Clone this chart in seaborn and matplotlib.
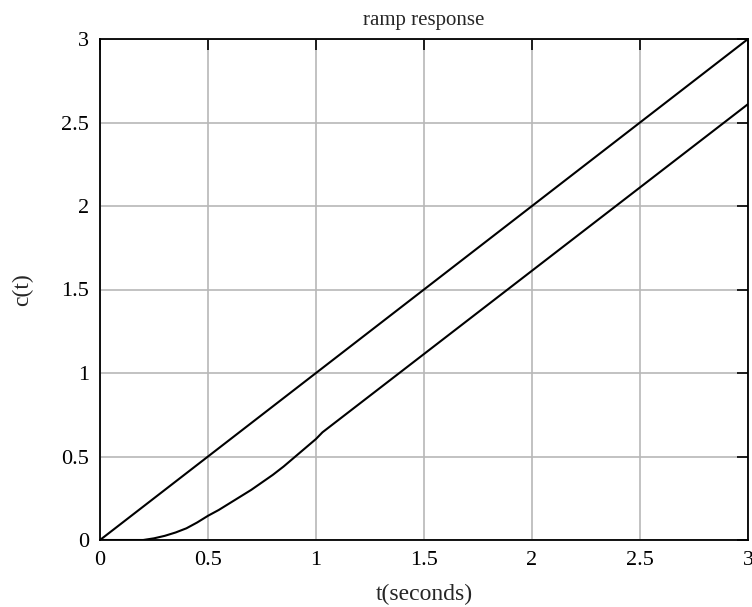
import numpy as np
import pandas as pd
import seaborn as sns
import matplotlib.pyplot as plt

# input ramp r(t) = t
ramp_t = [0.0, 3.0]
ramp_c = [0.0, 3.0]

# system output c(t)
out_t = [0.0, 0.2, 0.25, 0.3, 0.35, 0.4, 0.45, 0.5, 0.55, 0.6, 0.65, 0.7,
         0.75, 0.8, 0.85, 0.9, 0.95, 1.0, 1.03, 3.0]
out_c = [0.0, 0.0, 0.01, 0.025, 0.045, 0.07, 0.105, 0.145, 0.18, 0.22, 0.26,
         0.30, 0.345, 0.39, 0.44, 0.495, 0.55, 0.605, 0.645, 2.61]

ticks = [0, 0.5, 1, 1.5, 2, 2.5, 3]
tick_labels = ["0", "0.5", "1", "1.5", "2", "2.5", "3"]

sns.set_style("white")
plt.rcParams["font.family"] = ["Liberation Serif", "DejaVu Serif"]

fig = plt.figure(figsize=(7.52, 6.07), dpi=100)
ax = fig.add_axes([100 / 752, 67 / 607, 648 / 752, 501 / 607])

df_ramp = pd.DataFrame({"t": ramp_t, "c": ramp_c})
df_out = pd.DataFrame({"t": out_t, "c": out_c})
sns.lineplot(data=df_ramp, x="t", y="c", ax=ax, color="black", lw=1.5)
sns.lineplot(data=df_out, x="t", y="c", ax=ax, color="black", lw=1.5)

ax.set_xlim(0, 3)
ax.set_ylim(0, 3)
ax.set_xticks(ticks)
ax.set_xticklabels(tick_labels)
ax.set_yticks(ticks)
ax.set_yticklabels(tick_labels)
ax.grid(True, color="#b8b8b8", lw=1.2)
ax.set_axisbelow(True)
ax.tick_params(direction="in", length=8, width=1.2, top=True, right=True,
               labelsize=16, colors="black", pad=8)
for s in ax.spines.values():
    s.set_color("black")
    s.set_linewidth(1.3)

ax.set_xlabel("t(seconds)", fontsize=17, labelpad=10)
ax.set_ylabel("c(t)", fontsize=17, labelpad=20)
ax.set_title("ramp response", fontsize=15, pad=10)

fig.savefig("out.png", dpi=100)
